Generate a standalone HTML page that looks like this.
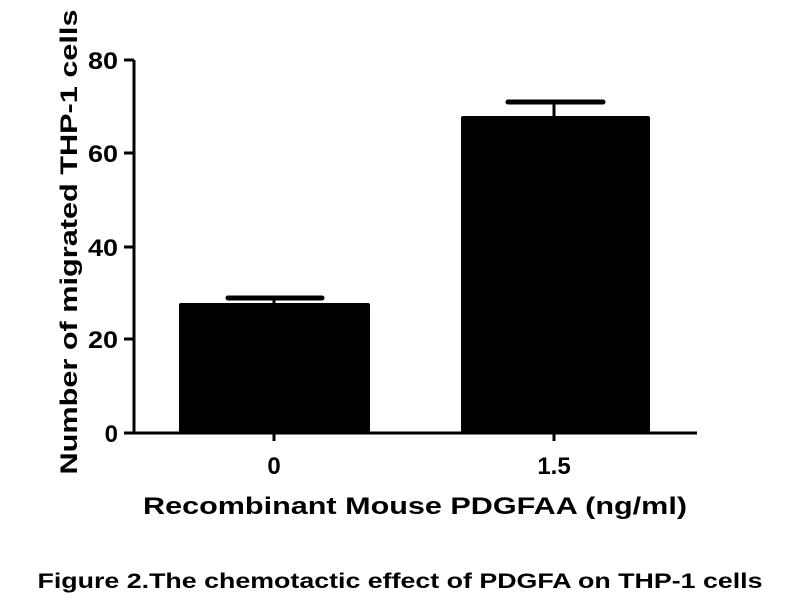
<!DOCTYPE html>
<html><head><style>body{margin:0;background:#fff}</style></head><body>
<svg width="800" height="600" xmlns="http://www.w3.org/2000/svg" font-family="Liberation Sans, Arial, sans-serif" font-weight="bold" fill="#000">
<rect width="800" height="600" fill="#fff"/>
<g stroke="#000" stroke-width="3" fill="none">
<line x1="134" y1="60" x2="134" y2="434"/>
<line x1="124" y1="433" x2="697" y2="433"/>
<line x1="124" y1="60" x2="134" y2="60"/>
<line x1="124" y1="153" x2="134" y2="153"/>
<line x1="124" y1="247" x2="134" y2="247"/>
<line x1="124" y1="339" x2="134" y2="339"/>
<line x1="274" y1="433" x2="274" y2="441"/>
<line x1="554" y1="433" x2="554" y2="441"/>
<line x1="274" y1="298" x2="274" y2="304"/>
<line x1="554" y1="102" x2="554" y2="117"/>
</g>
<g stroke="#000" stroke-width="5" stroke-linecap="round">
<line x1="228" y1="298" x2="322" y2="298"/>
<line x1="508" y1="102" x2="603" y2="102"/>
</g>
<rect x="179" y="303" width="191" height="130" rx="2"/>
<rect x="461" y="116" width="189" height="317" rx="2"/>
<g font-size="24" text-anchor="end">
<text x="118" y="69" textLength="30" lengthAdjust="spacingAndGlyphs">80</text>
<text x="118" y="162" textLength="30" lengthAdjust="spacingAndGlyphs">60</text>
<text x="118" y="256" textLength="30" lengthAdjust="spacingAndGlyphs">40</text>
<text x="118" y="348" textLength="30" lengthAdjust="spacingAndGlyphs">20</text>
<text x="118" y="442">0</text>
</g>
<g font-size="24" text-anchor="middle">
<text x="274" y="474">0</text>
<text x="554" y="474">1.5</text>
<text x="415" y="514" textLength="544" lengthAdjust="spacingAndGlyphs">Recombinant Mouse PDGFAA (ng/ml)</text>
<text transform="translate(77,242) rotate(-90)" textLength="465" lengthAdjust="spacingAndGlyphs">Number of migrated THP-1 cells</text>
</g>
<text x="400" y="588" font-size="21" text-anchor="middle" textLength="725" lengthAdjust="spacingAndGlyphs">Figure 2.The chemotactic effect of PDGFA on THP-1 cells</text>
</svg>
</body></html>
